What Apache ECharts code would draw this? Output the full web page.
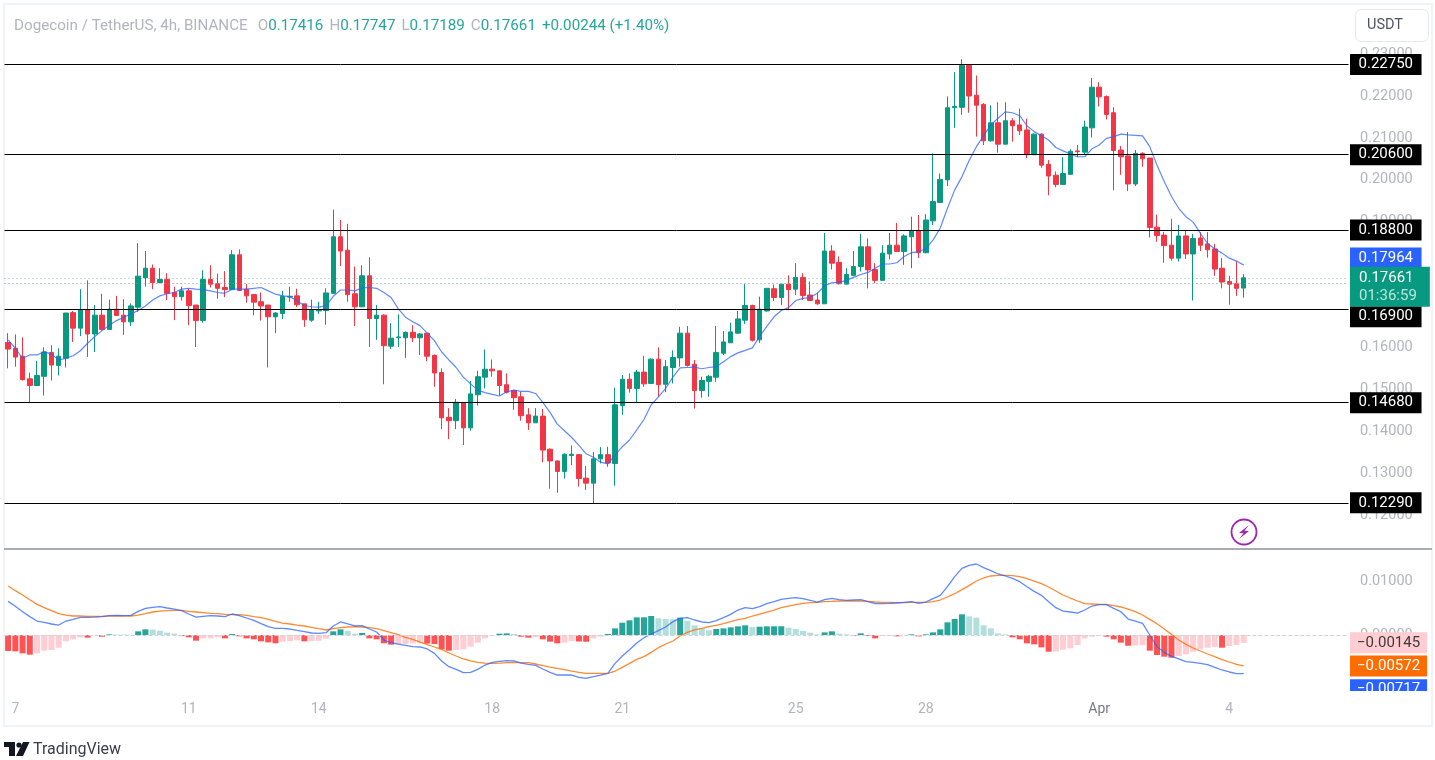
<![CDATA[<!DOCTYPE html>
<html><head><meta charset="utf-8">
<style>html,body{margin:0;padding:0;background:#fff}#c{width:1435px;height:760px}</style>
<script src="https://cdn.jsdelivr.net/npm/echarts@6/dist/echarts.min.js"></script>
</head><body><div id="c"></div>
<script>
const opens=[.1612,.1598,.1579,.1525,.1509,.1531,.1588,.1557,.1574,.1683,
.1646,.1690,.1632,.1677,.1643,.1691,.1677,.1661,.1696,.1766,
.1789,.1755,.1762,.1731,.1721,.1735,.1701,.1664,.1762,.1752,
.1743,.1738,.1821,.1739,.1726,.1709,.1701,.1673,.1681,.1720,
.1723,.1704,.1665,.1687,.1688,.1729,.1864,.1832,.1728,.1697,
.1771,.1669,.1677,.1603,.1623,.1623,.1636,.1623,.1634,.1581,
.1540,.1433,.1425,.1468,.1408,.1487,.1529,.1548,.1544,.1511,
.1497,.1482,.1439,.1420,.1436,.1357,.1329,.1304,.1342,.1344,
.1288,.1276,.1334,.1344,.1323,.1461,.1524,.1502,.1541,.1514,
.1572,.1512,.1552,.1575,.1634,.1560,.1497,.1519,.1529,.1586,
.1611,.1634,.1665,.1700,.1618,.1687,.1740,.1719,.1751,.1739,
.1767,.1725,.1713,.1704,.1830,.1803,.1751,.1772,.1793,.1840,
.1786,.1760,.1823,.1844,.1829,.1864,.1879,.1826,.1902,.1946,
.2000,.2172,.2173,.2273,.2202,.2180,.2093,.2136,.2085,.2141,
.2131,.2119,.2060,.2109,.2037,.2011,.1989,.2013,.2069,.2066,
.2124,.2221,.2199,.2160,.2071,.2057,.1990,.2063,.2052,.1887,
.1868,.1844,.1813,.1866,.1823,.1861,.1847,.1835,.1789,.1757,
.1752,.17416];
const closes=[.1596,.1577,.1523,.1509,.1533,.1589,.1558,.1579,.1682,.1646,
.1690,.1632,.1677,.1643,.1691,.1676,.1661,.1699,.1770,.1789,
.1755,.1762,.1729,.1721,.1735,.1700,.1664,.1762,.1751,.1741,
.1738,.1821,.1736,.1723,.1708,.1699,.1673,.1682,.1722,.1722,
.1702,.1666,.1690,.1689,.1730,.1864,.1830,.1726,.1697,.1771,
.1669,.1677,.1604,.1622,.1625,.1636,.1623,.1632,.1579,.1539,
.1432,.1425,.1469,.1408,.1489,.1530,.1548,.1544,.1509,.1493,
.1480,.1437,.1420,.1436,.1355,.1329,.1304,.1345,.1345,.1287,
.1276,.1334,.1344,.1324,.1463,.1524,.1502,.1541,.1513,.1572,
.1511,.1554,.1576,.1634,.1557,.1497,.1521,.1531,.1588,.1613,
.1637,.1668,.1700,.1617,.1691,.1741,.1719,.1751,.1738,.1767,
.1724,.1712,.1704,.1830,.1801,.1752,.1774,.1793,.1840,.1785,
.1760,.1825,.1844,.1829,.1866,.1879,.1826,.1904,.1948,.2001,
.2172,.2175,.2273,.2200,.2178,.2093,.2136,.2085,.2141,.2129,
.2117,.2060,.2109,.2035,.2009,.1989,.2015,.2068,.2067,.2126,
.2221,.2198,.2156,.2070,.2055,.1990,.2063,.2050,.1886,.1867,
.1843,.1813,.1866,.1823,.1860,.1844,.1833,.1787,.1756,.1751,
.1741,.17661];
const highs=[.1634,.1631,.1624,.1540,.1568,.1600,.1605,.1598,.1682,.1687,
.1739,.1760,.1701,.1728,.1714,.1723,.1715,.1705,.1849,.1830,
.1798,.1789,.1777,.1745,.1745,.1741,.1701,.1784,.1796,.1776,
.1782,.1832,.1834,.1751,.1727,.1731,.1702,.1684,.1735,.1745,
.1740,.1704,.1714,.1709,.1741,.1929,.1904,.1895,.1793,.1796,
.1815,.1701,.1679,.1658,.1679,.1638,.1653,.1634,.1634,.1583,
.1550,.1455,.1477,.1469,.1520,.1544,.1595,.1571,.1545,.1538,
.1497,.1494,.1455,.1455,.1453,.1359,.1330,.1347,.1366,.1345,
.1317,.1350,.1362,.1363,.1504,.1534,.1538,.1546,.1580,.1574,
.1600,.1570,.1593,.1649,.1651,.1570,.1530,.1534,.1651,.1639,
.1659,.1687,.1751,.1702,.1721,.1741,.1750,.1751,.1772,.1801,
.1777,.1757,.1731,.1873,.1844,.1817,.1789,.1830,.1871,.1860,
.1801,.1844,.1873,.1897,.1870,.1912,.1916,.1918,.2063,.2015,
.2199,.2257,.2288,.2273,.2249,.2183,.2178,.2185,.2185,.2147,
.2170,.2146,.2111,.2111,.2047,.2020,.2054,.2073,.2083,.2141,
.2243,.2233,.2201,.2173,.2081,.2114,.2071,.2066,.2052,.1917,
.1876,.1907,.1892,.1878,.1871,.1875,.1875,.1847,.1813,.1771,
.1806,.17747];
const lows=[.1550,.1554,.1521,.1467,.1509,.1485,.1521,.1533,.1552,.1613,
.1627,.1577,.1589,.1640,.1642,.1675,.1630,.1651,.1685,.1745,
.1739,.1753,.1713,.1665,.1712,.1653,.1601,.1659,.1743,.1716,
.1720,.1737,.1736,.1707,.1677,.1664,.1552,.1634,.1668,.1709,
.1696,.1649,.1661,.1680,.1654,.1729,.1794,.1709,.1651,.1696,
.1601,.1618,.1512,.1596,.1601,.1575,.1613,.1582,.1567,.1506,
.1405,.1381,.1405,.1367,.1401,.1461,.1502,.1530,.1485,.1490,
.1451,.1425,.1403,.1420,.1326,.1263,.1253,.1287,.1319,.1268,
.1260,.1228,.1323,.1315,.1270,.1439,.1492,.1467,.1506,.1513,
.1482,.1493,.1514,.1554,.1554,.1454,.1480,.1482,.1518,.1582,
.1611,.1633,.1656,.1614,.1611,.1685,.1711,.1701,.1689,.1725,
.1713,.1712,.1702,.1704,.1786,.1750,.1751,.1770,.1781,.1741,
.1753,.1760,.1810,.1829,.1797,.1789,.1813,.1825,.1892,.1946,
.1985,.2124,.2155,.2160,.2103,.2083,.2091,.2065,.2085,.2091,
.2107,.2052,.2059,.2029,.1963,.1982,.1989,.2013,.2054,.2059,
.2101,.2175,.2144,.1975,.2012,.1973,.1985,.2031,.1862,.1852,
.1802,.1807,.1805,.1811,.1712,.1830,.1814,.1771,.1741,.1702,
.1723,.17189];
const maLine=[.1618,.1598,.1574,.1582,.1582,.1590,.1584,.1570,.1574,.1580,
.1592,.1610,.1626,.1640,.1653,.1664,.1672,.1680,.1688,.1699,
.1713,.1723,.1728,.1731,.1739,.1741,.1739,.1738,.1735,.1731,
.1729,.1739,.1739,.1739,.1741,.1743,.1735,.1727,.1723,.1721,
.1711,.1700,.1697,.1696,.1699,.1722,.1737,.1737,.1735,.1742,
.1743,.1741,.1731,.1719,.1692,.1672,.1661,.1652,.1634,.1616,
.1589,.1570,.1552,.1529,.1513,.1498,.1492,.1488,.1484,.1494,
.1498,.1495,.1495,.1490,.1469,.1445,.1417,.1401,.1385,.1366,
.1346,.1338,.1326,.1322,.1343,.1363,.1379,.1403,.1428,.1463,
.1482,.1502,.1529,.1551,.1552,.1553,.1549,.1552,.1554,.1566,
.1578,.1587,.1593,.1599,.1626,.1650,.1673,.1688,.1695,.1712,
.1717,.1719,.1729,.1748,.1754,.1755,.1760,.1767,.1774,.1779,
.1789,.1799,.1799,.1802,.1817,.1826,.1828,.1836,.1856,.1885,
.1932,.1976,.2007,.2046,.2079,.2105,.2131,.2147,.2162,.2160,
.2153,.2129,.2115,.2105,.2095,.2077,.2069,.2062,.2055,.2055,
.2074,.2083,.2099,.2103,.2109,.2107,.2106,.2105,.2079,.2035,
.1996,.1960,.1932,.1912,.1899,.1872,.1848,.1835,.1825,.1813,
.1806,.17964];
const macdLine=[.00623,.00531,.00432,.00340,.00259,.00235,.00204,.00185,.00259,.00290,
.00327,.00327,.00333,.00340,.00358,.00364,.00358,.00364,.00438,.00494,
.00512,.00525,.00500,.00481,.00451,.00389,.00333,.00346,.00358,.00352,
.00340,.00389,.00358,.00315,.00272,.00210,.00154,.00123,.00123,.00111,
.00086,.00062,.00037,.00031,.00043,.00167,.00241,.00204,.00167,.00173,
.00111,.00056,-.00093,-.00142,-.00167,-.00191,-.00216,-.00222,-.00259,-.00340,
-.00481,-.00586,-.00636,-.00698,-.00691,-.00636,-.00556,-.00506,-.00488,-.00475,
-.00481,-.00519,-.00543,-.00562,-.00630,-.00691,-.00741,-.00741,-.00741,-.00784,
-.00802,-.00772,-.00741,-.00710,-.00525,-.00389,-.00272,-.00148,-.00049,.00019,
.00080,.00148,.00247,.00309,.00321,.00278,.00241,.00228,.00265,.00321,
.00383,.00463,.00506,.00488,.00525,.00580,.00617,.00661,.00679,.00691,
.00673,.00642,.00611,.00654,.00679,.00654,.00642,.00648,.00654,.00617,
.00580,.00580,.00586,.00593,.00605,.00617,.00586,.00611,.00673,.00735,
.00895,.01080,.01235,.01290,.01315,.01247,.01191,.01130,.01093,.01049,
.00988,.00895,.00809,.00735,.00617,.00506,.00444,.00426,.00407,.00463,
.00537,.00562,.00562,.00494,.00432,.00296,.00259,.00216,.00000,-.00216,
-.00321,-.00395,-.00444,-.00494,-.00506,-.00525,-.00549,-.00599,-.00648,-.00685,
-.00716,-.00717];
const signalLine=[.00907,.00821,.00741,.00654,.00568,.00506,.00451,.00395,.00370,.00352,
.00352,.00346,.00346,.00346,.00352,.00352,.00352,.00352,.00370,.00395,
.00426,.00444,.00451,.00457,.00457,.00438,.00426,.00414,.00401,.00395,
.00383,.00377,.00377,.00364,.00340,.00321,.00290,.00253,.00222,.00204,
.00185,.00167,.00142,.00117,.00093,.00117,.00136,.00148,.00154,.00148,
.00136,.00117,.00080,.00043,.00006,-.00043,-.00080,-.00130,-.00179,-.00222,
-.00265,-.00333,-.00389,-.00444,-.00481,-.00506,-.00519,-.00525,-.00519,-.00512,
-.00512,-.00512,-.00512,-.00537,-.00568,-.00593,-.00617,-.00642,-.00667,-.00691,
-.00710,-.00710,-.00710,-.00710,-.00667,-.00599,-.00525,-.00451,-.00401,-.00321,
-.00235,-.00167,-.00111,-.00019,.00049,.00093,.00123,.00154,.00179,.00210,
.00247,.00284,.00309,.00352,.00389,.00426,.00463,.00506,.00537,.00562,
.00586,.00599,.00605,.00617,.00623,.00630,.00630,.00630,.00630,.00623,
.00611,.00605,.00605,.00599,.00599,.00605,.00605,.00605,.00617,.00648,
.00704,.00765,.00840,.00914,.01000,.01056,.01093,.01105,.01105,.01099,
.01080,.01043,.01000,.00951,.00889,.00815,.00741,.00685,.00630,.00580,
.00574,.00568,.00568,.00543,.00519,.00481,.00432,.00370,.00290,.00210,
.00111,.00012,-.00093,-.00173,-.00241,-.00296,-.00352,-.00401,-.00457,-.00500,
-.00543,-.00572];
const histogram=[-.00296,-.00302,-.00340,-.00364,-.00340,-.00290,-.00278,-.00235,-.00117,-.00080,
-.00043,-.00049,-.00006,-.00031,.00012,.00010,.00008,.00006,.00068,.00105,
.00100,.00080,.00043,.00025,-.00019,-.00043,-.00105,-.00062,-.00060,-.00043,
-.00062,.00019,-.00025,-.00062,-.00080,-.00117,-.00136,-.00154,-.00123,-.00111,
-.00099,-.00117,-.00112,-.00105,-.00068,.00068,.00105,.00074,.00025,.00037,
-.00062,-.00080,-.00154,-.00179,-.00173,-.00165,-.00155,-.00148,-.00158,-.00167,
-.00265,-.00290,-.00278,-.00265,-.00216,-.00142,-.00062,-.00006,.00025,.00031,
.00019,-.00031,-.00049,-.00043,-.00080,-.00123,-.00154,-.00142,-.00111,-.00120,
-.00125,-.00062,-.00031,.00019,.00123,.00228,.00272,.00327,.00328,.00352,
.00309,.00296,.00290,.00321,.00265,.00179,.00123,.00086,.00111,.00123,
.00142,.00160,.00179,.00148,.00154,.00160,.00161,.00162,.00136,.00111,
.00074,.00043,.00012,.00049,.00068,.00025,.00012,-.00012,.00031,-.00019,
-.00062,-.00019,-.00012,-.00025,-.00006,.00012,-.00025,.00012,.00049,.00105,
.00235,.00296,.00383,.00346,.00321,.00179,.00123,.00031,.00012,-.00043,
-.00080,-.00154,-.00173,-.00228,-.00309,-.00305,-.00272,-.00247,-.00185,-.00062,
-.00031,-.00006,-.00031,-.00080,-.00142,-.00198,-.00196,-.00190,-.00290,-.00370,
-.00401,-.00420,-.00389,-.00358,-.00309,-.00265,-.00235,-.00222,-.00235,-.00204,
-.00185,-.00145];
const levels=[.2275,.206,.188,.169,.1468,.1229];
const tickIndex=[1,25,43,67,85,109,127,151,169];
const tickLabels=['7','11','14','18','21','25','28','Apr','4'];
const previousClose=.1752;
const headerName='Dogecoin / TetherUS, 4h, BINANCE';
const headerValues=[['O','0.17416'],['H','0.17747'],['L','0.17189'],['C','0.17661']];
const headerChange='+0.00244 (+1.40%)';
const countdown='01:36:59';

const FONT='Roboto, "Liberation Sans", sans-serif';
const GREEN='#089981',RED='#f23645',BLUE='#2962ff',ORANGE='#ff6d00',GREY='#b2b5be';
const CLEAR='rgba(0,0,0,0)';
const BANDS=186;
const categories=Array.from({length:BANDS},()=>'');
tickIndex.forEach((k,i)=>categories[k]=tickLabels[i]);
const ohlc=opens.map((o,i)=>[o,closes[i],lows[i],highs[i]]);
const last=a=>a[a.length-1];
const tag=(bg,fg,off,pad)=>({show:true,position:'end',distance:1.5,backgroundColor:bg,color:fg,
  fontFamily:FONT,fontSize:15,padding:[3.5,pad,2.5,pad],offset:off});
const tagged=(v,text,bg,fg,off,line,pad)=>({yAxis:v,
  label:Object.assign(tag(bg,fg,off,pad||9),{formatter:text}),
  lineStyle:line||{color:CLEAR,width:0}});
const levelOff={0.169:[0,7]};
const hdr='{n|'+headerName+'}{g|}'+headerValues.map(h=>'{n|'+h[0]+'}{v|'+h[1]+'}').join('{s|}')+'{s|}{v|'+headerChange+'}';

const option={
  animation:false,backgroundColor:'#fff',
  title:{left:14,top:17,padding:0,text:hdr,textStyle:{fontWeight:'normal',rich:{
    n:{color:GREY,fontSize:15.2,fontWeight:'normal',fontFamily:FONT},
    v:{color:'#26a69a',fontSize:15.2,fontWeight:'normal',fontFamily:FONT},
    s:{width:6},g:{width:10}}}},
  grid:[{left:4.5,width:1344,top:12.2,height:544.7},{left:4.5,width:1344,top:549,height:140}],
  xAxis:[
   {type:'category',gridIndex:0,data:categories,boundaryGap:true,axisLine:{show:false},axisTick:{show:false},axisLabel:{show:false},splitLine:{show:false}},
   {type:'category',gridIndex:1,data:categories,boundaryGap:true,axisLine:{show:false},axisTick:{show:false},splitLine:{show:false},
    axisLabel:{interval:0,hideOverlap:false,margin:13,color:GREY,fontSize:14,fontFamily:FONT,
      formatter:v=>v==='Apr'?'{m|Apr}':v,rich:{m:{color:'#787b86',fontSize:14,fontFamily:FONT}}}}
  ],
  yAxis:[
   {type:'value',gridIndex:0,position:'right',min:.11,max:.24,interval:.01,axisLine:{show:false},axisTick:{show:false},splitLine:{show:false},
    axisLabel:{margin:11.5,color:GREY,fontSize:14.5,fontFamily:FONT,
      formatter:v=>(Math.abs(v-.11)<1e-6||Math.abs(v-.24)<1e-6)?'':v.toFixed(5)}},
   {type:'value',gridIndex:1,position:'right',min:-.01,max:.01593,interval:.01,axisLine:{show:false},axisTick:{show:false},splitLine:{show:false},
    axisLabel:{margin:11.5,color:GREY,fontSize:14.5,fontFamily:FONT,
      formatter:v=>(Math.abs(v)<1e-6||Math.abs(v-.01)<1e-6)?v.toFixed(5):''}}
  ],
  series:[
   {type:'candlestick',xAxisIndex:0,yAxisIndex:0,data:ohlc,barWidth:5,z:3,
    itemStyle:{color:GREEN,color0:RED,borderColor:GREEN,borderColor0:RED,borderWidth:1},
    markLine:{silent:true,symbol:'none',animation:false,precision:5,
      lineStyle:{color:'#000',width:1,type:'solid'},
      data:levels.map(v=>tagged(v,v.toFixed(5),'#000','#fff',levelOff[v]||[0,0],{color:'#000',width:1,type:'solid'},8.5))}},
   {type:'line',xAxisIndex:0,yAxisIndex:0,data:maLine,showSymbol:false,symbol:'none',z:4,
    lineStyle:{color:BLUE,width:1.2,opacity:.75},itemStyle:{color:BLUE},
    markLine:{silent:true,symbol:'none',animation:false,precision:5,data:[
      {yAxis:previousClose,label:{show:false},lineStyle:{color:'#8a8e99',type:[1,3],width:1}},
      tagged(last(maLine),last(maLine).toFixed(5),BLUE,'#fff',[0,-7],null,8.5),
      {yAxis:last(closes),
       label:{show:true,position:'end',distance:1.5,offset:[0,9],backgroundColor:GREEN,padding:[2,13,2,9],
         formatter:'{p|'+last(closes).toFixed(5)+'}\n{t|'+countdown+'}',
         rich:{p:{color:'#fff',fontSize:15,fontFamily:FONT,lineHeight:18},t:{color:'#b9e6dc',fontSize:15,fontFamily:FONT,lineHeight:18}}},
       lineStyle:{color:'rgba(8,153,129,.6)',type:[1,3],width:1}}
    ]}},
   {type:'bar',xAxisIndex:1,yAxisIndex:1,data:histogram,barWidth:6,z:2,
    itemStyle:{color:p=>{const v=histogram[p.dataIndex],q=p.dataIndex?histogram[p.dataIndex-1]:v-1e-6*(v<0?-1:1);
      return v>=0?(v>=q?'#26a69a':'#b2dfdb'):(v<q?'#ff5252':'#ffcdd2');}},
    markLine:{silent:true,symbol:'none',animation:false,precision:5,data:[
      {yAxis:0,label:{show:false},lineStyle:{color:'#cfd2d9',type:'dashed',width:1}},
      tagged(last(histogram),'\u2212'+Math.abs(last(histogram)).toFixed(5),'#ffcdd2','#3b3b3b',[0,0],null,7)
    ]}},
   {type:'line',xAxisIndex:1,yAxisIndex:1,data:signalLine,showSymbol:false,symbol:'none',z:3,
    lineStyle:{color:ORANGE,width:1.3,opacity:.8},
    markLine:{silent:true,symbol:'none',animation:false,precision:5,data:[
      tagged(last(signalLine),'\u2212'+Math.abs(last(signalLine)).toFixed(5),ORANGE,'#fff',[0,0],null,7)]}},
   {type:'line',xAxisIndex:1,yAxisIndex:1,data:macdLine,showSymbol:false,symbol:'none',z:4,
    lineStyle:{color:BLUE,width:1.3,opacity:.75},
    markLine:{silent:true,symbol:'none',animation:false,precision:5,data:[
      tagged(last(macdLine),'\u2212'+Math.abs(last(macdLine)).toFixed(5),BLUE,'#fff',[0,16],null,7)]}}
  ],
  graphic:[
   {type:'rect',z:0,silent:true,shape:{x:4,y:4,width:1428,height:722},style:{fill:'none',stroke:'#f0f3fa',lineWidth:2}},
   {type:'line',z:1,silent:true,shape:{x1:4,y1:549,x2:1432,y2:549},style:{stroke:'#8f929b',lineWidth:1.3}},
   {type:'rect',z:100,silent:true,shape:{x:1345,y:691,width:86,height:14},style:{fill:'#fff'}},
   {type:'rect',z:100,silent:true,shape:{x:1355.5,y:9.5,width:73,height:32,r:6},style:{fill:'#fff',stroke:'#e5e7ee',lineWidth:1}},
   {type:'text',z:101,silent:true,x:1385,y:25,style:{text:'USDT',fill:'#50535e',font:'14.5px '+FONT,textAlign:'center',textVerticalAlign:'middle'}},
   {type:'circle',z:100,silent:true,shape:{cx:1244,cy:532,r:12.5},style:{fill:'#fff',stroke:'#9c27b0',lineWidth:1.8}},
   {type:'polygon',z:101,silent:true,shape:{points:[[1249,525],[1239,533],[1243.5,533.2],[1239,539],[1249,531],[1244.5,530.8]]},style:{fill:'#9c27b0'}},
   {type:'polygon',z:5,silent:true,shape:{points:[[4,742],[15,742],[15,756],[9,756],[9,747],[4,747]]},style:{fill:'#131722'}},
   {type:'circle',z:5,silent:true,shape:{cx:19,cy:745,r:2.6},style:{fill:'#131722'}},
   {type:'polygon',z:5,silent:true,shape:{points:[[23,742],[29.5,742],[23,756],[16,756]]},style:{fill:'#131722'}},
   {type:'text',z:5,silent:true,x:33,y:749.5,style:{text:'TradingView',fill:'#3a3e49',font:'16px '+FONT,textVerticalAlign:'middle'}}
  ]
};
echarts.init(document.getElementById('c'),null,{renderer:'canvas'}).setOption(option);
</script></body></html>
]]>
